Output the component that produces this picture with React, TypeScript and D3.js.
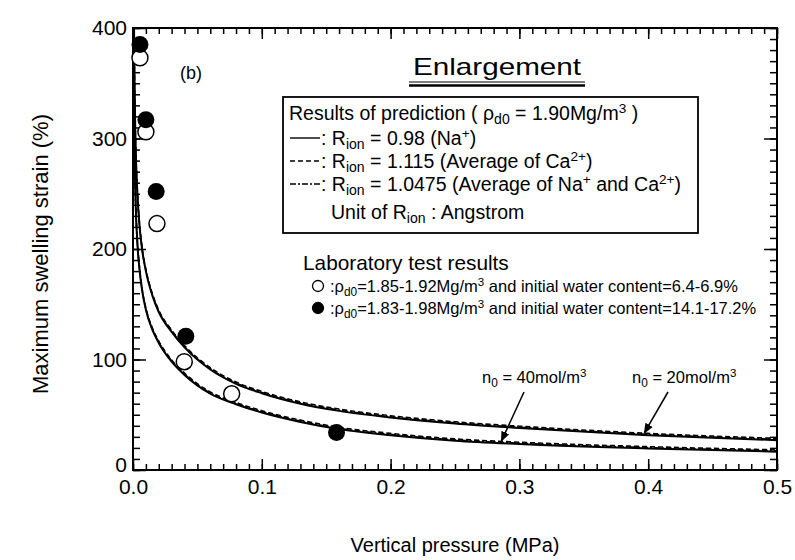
import React, { useEffect, useRef } from 'react';
import * as d3 from 'd3';

// predicted curves (n0 = 20 mol/m3, upper pair)
const pressure20 = [0.0008, 0.0012, 0.0018, 0.0025, 0.0035, 0.005, 0.007, 0.01, 0.015, 0.02, 0.03, 0.04, 0.06, 0.08, 0.1, 0.13, 0.16, 0.2, 0.25, 0.3, 0.4, 0.5];
const strain20 = [400, 350, 305, 275, 248, 222, 200, 180, 158, 143, 125, 111, 91, 78, 69.5, 60, 53.5, 47.5, 42, 38, 31.5, 27];
// predicted curves (n0 = 40 mol/m3, lower pair)
const pressure40 = [0.0004, 0.0005, 0.0008, 0.0012, 0.0018, 0.0025, 0.0035, 0.005, 0.007, 0.01, 0.015, 0.02, 0.03, 0.04, 0.06, 0.08, 0.1, 0.13, 0.16, 0.2, 0.25, 0.3, 0.4, 0.5];
const strain40 = [410, 380, 330, 290, 252, 226, 203, 182, 163, 145, 127, 115, 98, 86, 69, 59.5, 52, 43.5, 37, 31.5, 26.5, 23.5, 19.5, 16.6];

// laboratory test results
const openP = [0.0054, 0.01, 0.0186, 0.0398, 0.0766];
const openS = [373, 306, 223, 98, 69];
const filledP = [0.0054, 0.01, 0.018, 0.041, 0.158];
const filledS = [385, 317, 252, 121, 34];

const xTicks = [0, 0.1, 0.2, 0.3, 0.4, 0.5];
const yTicks = [0, 100, 200, 300, 400];

const FONT = 'Liberation Sans, Arial, Helvetica, sans-serif';

export default function App() {
  const ref = useRef<SVGSVGElement>(null);

  useEffect(() => {
    const svg = d3.select(ref.current);
    svg.selectAll('*').remove();

    const margin = { top: 28, right: 18, bottom: 90, left: 133 };
    const width = 795 - margin.left - margin.right;
    const height = 560 - margin.top - margin.bottom;

    const x = d3.scaleLinear().domain([0, 0.5]).range([0, width]);
    const y = d3.scaleLinear().domain([0, 400]).range([height, 0]);

    const defs = svg.append('defs');
    defs
      .append('clipPath')
      .attr('id', 'plot-clip')
      .append('rect')
      .attr('width', width)
      .attr('height', height);
    defs
      .append('marker')
      .attr('id', 'arrow')
      .attr('viewBox', '0 0 10 10')
      .attr('refX', 9)
      .attr('refY', 5)
      .attr('markerWidth', 7)
      .attr('markerHeight', 7)
      .attr('orient', 'auto')
      .append('path')
      .attr('d', 'M0,1 L10,5 L0,9 Z')
      .attr('fill', '#000');

    const g = svg
      .append('g')
      .attr('transform', `translate(${margin.left}, ${margin.top})`);

    // axes: minor ticks, then major ticks with labels
    const minorX = d3.range(0, 0.5001, 0.01);
    const minorY = d3.range(0, 400.1, 10);
    const styleAxis = (sel: any) => {
      sel.select('.domain').remove();
      sel.selectAll('line').attr('stroke', '#000').attr('stroke-width', 1.5);
      sel.selectAll('text').attr('font-family', FONT).attr('font-size', 21).attr('fill', '#000');
    };

    g.append('g')
      .attr('transform', `translate(0, ${height})`)
      .call(d3.axisBottom(x).tickValues(minorX).tickSize(-6).tickFormat(() => ''))
      .call(styleAxis);
    g.append('g')
      .attr('transform', `translate(0, ${height})`)
      .call(d3.axisBottom(x).tickValues(xTicks).tickSize(-11).tickPadding(9).tickFormat(d3.format('.1f')))
      .call(styleAxis);
    g.append('g')
      .call(d3.axisTop(x).tickValues(minorX).tickSize(-6).tickFormat(() => ''))
      .call(styleAxis);
    g.append('g')
      .call(d3.axisTop(x).tickValues(xTicks).tickSize(-11).tickFormat(() => ''))
      .call(styleAxis);

    g.append('g')
      .call(d3.axisLeft(y).tickValues(minorY).tickSize(-7).tickFormat(() => ''))
      .call(styleAxis);
    g.append('g')
      .call(d3.axisLeft(y).tickValues(yTicks).tickSize(-13).tickPadding(6))
      .call(styleAxis)
      .selectAll('text')
      .attr('dy', (d: any) => (d === 0 ? '0.05em' : '0.32em'));
    g.append('g')
      .attr('transform', `translate(${width}, 0)`)
      .call(d3.axisRight(y).tickValues(minorY).tickSize(-7).tickFormat(() => ''))
      .call(styleAxis);
    g.append('g')
      .attr('transform', `translate(${width}, 0)`)
      .call(d3.axisRight(y).tickValues(yTicks).tickSize(-13).tickFormat(() => ''))
      .call(styleAxis);

    g.append('rect')
      .attr('width', width)
      .attr('height', height)
      .attr('fill', 'none')
      .attr('stroke', '#000')
      .attr('stroke-width', 2);

    // curves: solid, dashed and dash-dot almost coincide
    const curves = [
      { p: pressure20, s: strain20 },
      { p: pressure40, s: strain40 },
    ];
    const styles = [
      { dash: null, w: 2, dy: 0 },
      { dash: '5,3', w: 1.6, dy: -1.8 },
      { dash: '6,2,2,2', w: 1.4, dy: -0.9 },
    ];
    const path = d3
      .line<[number, number]>()
      .x(d => x(d[0]))
      .y(d => y(d[1]))
      .curve(d3.curveMonotoneX);
    const plot = g.append('g').attr('clip-path', 'url(#plot-clip)');
    curves.forEach(c => {
      const pts: [number, number][] = c.p.map((p, i) => [p, c.s[i]]);
      styles.forEach(st => {
        plot
          .append('path')
          .datum(pts)
          .attr('d', path)
          .attr('transform', `translate(0, ${st.dy})`)
          .attr('fill', 'none')
          .attr('stroke', '#000')
          .attr('stroke-width', st.w)
          .attr('stroke-dasharray', st.dash);
      });
    });

    // markers
    g.selectAll('circle.open')
      .data(openP)
      .enter()
      .append('circle')
      .attr('class', 'open')
      .attr('cx', d => x(d))
      .attr('cy', (d, i) => y(openS[i]))
      .attr('r', 8)
      .attr('fill', '#fff')
      .attr('stroke', '#000')
      .attr('stroke-width', 1.5);
    g.selectAll('circle.filled')
      .data(filledP)
      .enter()
      .append('circle')
      .attr('class', 'filled')
      .attr('cx', d => x(d))
      .attr('cy', (d, i) => y(filledS[i]))
      .attr('r', 8.5)
      .attr('fill', '#000');

    // axis titles
    svg
      .append('text')
      .attr('transform', `translate(48, 254) rotate(-90)`)
      .attr('text-anchor', 'middle')
      .attr('font-family', FONT)
      .attr('font-size', 22)
      .text('Maximum swelling strain (%)');
    svg
      .append('text')
      .attr('x', 455)
      .attr('y', 552)
      .attr('text-anchor', 'middle')
      .attr('font-family', FONT)
      .attr('font-size', 20)
      .text('Vertical pressure (MPa)');

    const txt = (px: number, py: number, size: number) =>
      svg
        .append('text')
        .attr('x', px)
        .attr('y', py)
        .attr('font-family', FONT)
        .attr('font-size', size)
        .attr('fill', '#000');

    txt(180, 79, 18).text('(b)');

    // Enlargement heading with double underline
    txt(497, 75, 24)
      .attr('text-anchor', 'middle')
      .attr('textLength', 168)
      .attr('lengthAdjust', 'spacingAndGlyphs')
      .text('Enlargement');
    svg.append('line').attr('x1', 409).attr('x2', 585).attr('y1', 82).attr('y2', 82).attr('stroke', '#000').attr('stroke-width', 1.2);
    svg.append('line').attr('x1', 409).attr('x2', 585).attr('y1', 85.5).attr('y2', 85.5).attr('stroke', '#000').attr('stroke-width', 2.4);

    // prediction legend box
    svg
      .append('rect')
      .attr('x', 283)
      .attr('y', 97)
      .attr('width', 415)
      .attr('height', 136)
      .attr('fill', '#fff')
      .attr('stroke', '#000')
      .attr('stroke-width', 1.8);

    const sub = (t: any, s: string) => t.append('tspan').attr('font-size', '0.72em').attr('dy', 4).text(s);
    const up = (t: any, dy: number) => t.append('tspan').attr('font-size', '1em').attr('dy', dy);
    const sup = (t: any, s: string, dy: number) => t.append('tspan').attr('font-size', '0.7em').attr('dy', dy).text(s);

    const boxSize = 19.5;
    let t = txt(289, 120, boxSize);
    t.append('tspan').text('Results of prediction ( ρ');
    sub(t, 'd0');
    up(t, -4).text(' = 1.90Mg/m');
    sup(t, '3', -7);
    up(t, 7).text(' )');

    const legendRows = [
      { dash: null, label: '0.98 (Na', tail: [['+', ')']] },
      { dash: '5,3', label: '1.115 (Average of Ca', tail: [['2+', ')']] },
      { dash: '6,2,2,2', label: '1.0475 (Average of Na', tail: [['+', ' and Ca'], ['2+', ')']] },
    ];
    legendRows.forEach((row, i) => {
      const ly = 145 + i * 23;
      svg
        .append('line')
        .attr('x1', 290)
        .attr('x2', 320)
        .attr('y1', ly - 7)
        .attr('y2', ly - 7)
        .attr('stroke', '#000')
        .attr('stroke-width', 1.4)
        .attr('stroke-dasharray', row.dash);
      const tt = txt(321, ly, boxSize);
      tt.append('tspan').text(' : R');
      sub(tt, 'ion');
      up(tt, -4).text(' = ' + row.label);
      row.tail.forEach(([s, rest]) => {
        sup(tt, s, -7);
        up(tt, 7).text(rest);
      });
    });

    t = txt(331, 219, boxSize);
    t.append('tspan').text('Unit of R');
    sub(t, 'ion');
    up(t, -4).text(' : Angstrom');

    // laboratory legend
    txt(303, 270, 20.8).text('Laboratory test results');
    const labRows = [
      { fill: '#fff', text: '1.85-1.92Mg/m', tail: ' and initial water content=6.4-6.9%' },
      { fill: '#000', text: '1.83-1.98Mg/m', tail: ' and initial water content=14.1-17.2%' },
    ];
    labRows.forEach((row, i) => {
      const ly = 292 + i * 22;
      svg
        .append('circle')
        .attr('cx', 318)
        .attr('cy', ly - 6)
        .attr('r', 5.5)
        .attr('fill', row.fill)
        .attr('stroke', '#000')
        .attr('stroke-width', 1.3);
      const tt = txt(330, ly, 16.5);
      tt.append('tspan').text(':ρ');
      sub(tt, 'd0');
      up(tt, -4).text('=' + row.text);
      sup(tt, '3', -6);
      up(tt, 6).text(row.tail);
    });

    // n0 annotations, arrows end on their curves
    const on40 = d3.scaleLinear().domain(pressure40).range(strain40);
    const on20 = d3.scaleLinear().domain(pressure20).range(strain20);
    const notes = [
      { tx: 482, ty: 383, from: [524, 392], p: 0.286, curve: on40, n: '40' },
      { tx: 632, ty: 383, from: [668, 392], p: 0.397, curve: on20, n: '20' },
    ];
    notes.forEach(nt => {
      const tt = txt(nt.tx, nt.ty, 16.5);
      tt.append('tspan').text('n');
      sub(tt, '0');
      up(tt, -4).text(' = ' + nt.n + 'mol/m');
      sup(tt, '3', -6);
      svg
        .append('line')
        .attr('x1', nt.from[0])
        .attr('y1', nt.from[1])
        .attr('x2', x(nt.p) + margin.left)
        .attr('y2', y(nt.curve(nt.p)) + margin.top - 2)
        .attr('stroke', '#000')
        .attr('stroke-width', 1.5)
        .attr('marker-end', 'url(#arrow)');
    });
  }, []);

  return (
    <svg
      ref={ref}
      width={795}
      height={560}
      style={{ position: 'absolute', left: 0, top: 0, background: '#fff' }}
    />
  );
}
